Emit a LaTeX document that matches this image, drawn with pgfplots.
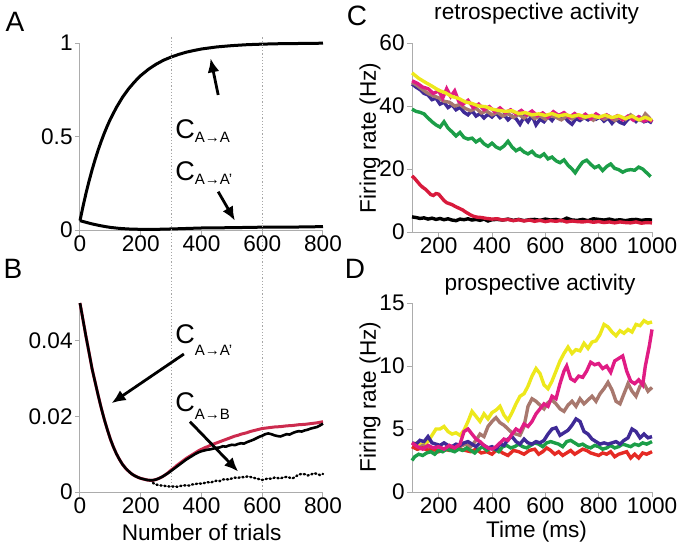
\documentclass[border=0pt]{standalone}
\usepackage{fontspec}
\setmainfont{Liberation Sans}
\usepackage{pgfplots}
\pgfplotsset{compat=1.18}
\usetikzlibrary{arrows.meta}

\definecolor{cyel}{HTML}{EDE81C}
\definecolor{cmag}{HTML}{E01C84}
\definecolor{cbrn}{HTML}{A8786E}
\definecolor{cpur}{HTML}{3F2A96}
\definecolor{cgrn}{HTML}{1C9E48}
\definecolor{cred}{HTML}{D81A3C}
\definecolor{cred2}{HTML}{E52A24}
\definecolor{cbred}{HTML}{CC2B4E}

\newcommand{\tfont}{\fontsize{11.3}{13}\selectfont}
\newcommand{\clab}[2]{{\fontsize{13.5}{14}\selectfont C}\raisebox{#2}{\fontsize{7.5}{8}\selectfont #1}}

\pgfplotsset{
  panel/.style={
    scale only axis,
    axis lines=left,
    axis line style={-, gray!65, line width=0.5pt},
    tick style={gray!65, line width=0.5pt},
    tick align=outside,
    major tick length=2.5pt,
    clip=false,
    tick label style={font=\tfont, inner sep=1pt},
    xticklabel style={yshift=0.8pt},
    scaled y ticks=false,
    /pgf/number format/assume math mode=true,
    /pgf/number format/1000 sep={},
  },
}
\tikzset{ann/.style={line width=1.4pt, -{Latex[length=7pt,width=6pt]}}}

\begin{document}
\begin{tikzpicture}
\useasboundingbox (0,0) rectangle (341.5pt,-273.5pt);

% ---------------- A ----------------
\begin{axis}[panel, at={(40pt,-115pt)}, anchor=south west,
  width=121.5pt, height=93.5pt,
  xmin=0, xmax=800, ymin=0, ymax=1,
  xtick={0,200,400,600,800},
  ytick={0,0.5,1}, yticklabels={0,0.5,1}]
\addplot[black, line width=1.5pt] coordinates {
 (0,0.05) (10,0.127) (20,0.198) (30,0.263) (40,0.323) (50,0.378) (60,0.429)
 (70,0.475) (80,0.518) (90,0.557) (100,0.593) (120,0.656) (140,0.710)
 (160,0.755) (180,0.793) (200,0.826) (225,0.859) (250,0.886) (275,0.908)
 (300,0.925) (325,0.939) (350,0.951) (375,0.960) (400,0.968) (450,0.979)
 (500,0.986) (550,0.991) (600,0.994) (650,0.996) (700,0.997) (750,0.998) (800,0.999)};
\addplot[black, line width=1.5pt] coordinates {
 (0,0.05) (20,0.041) (40,0.0325) (60,0.0255) (80,0.0192) (100,0.014) (130,0.0086)
 (160,0.0055) (200,0.0036) (240,0.0031) (300,0.0056) (400,0.0108) (500,0.0125)
 (600,0.0152) (700,0.0156) (800,0.0181)};
\draw[gray!70, densely dotted, line width=0.6pt] (axis cs:300,1.03) -- (axis cs:300,-1.40);
\draw[gray!70, densely dotted, line width=0.6pt] (axis cs:600,1.03) -- (axis cs:600,-1.40);
\draw[ann] (axis cs:455,0.722) -- (axis cs:430,0.918);
\draw[ann] (axis cs:455,0.205) -- (axis cs:510,0.050);
\node[anchor=base west, inner sep=0pt] at (axis cs:313,0.487) {\clab{A→A}{-2pt}};
\node[anchor=base west, inner sep=0pt] at (axis cs:313,0.267) {\clab{A→A'}{-2pt}};
\end{axis}

% ---------------- B ----------------
\begin{axis}[panel, at={(40pt,-246pt)}, anchor=south west,
  width=121.5pt, height=94.5pt,
  xmin=0, xmax=800, ymin=0, ymax=0.05,
  xtick={0,200,400,600,800},
  ytick={0,0.02,0.04}, yticklabels={0,0.02,0.04}]
\addplot[cbred, line width=1.5pt] coordinates {
 (0,0.0500) (10,0.0455) (20,0.0410) (30,0.0368) (40,0.0325) (50,0.0290) (60,0.0255)
 (70,0.0222) (80,0.0192) (90,0.0165) (100,0.0140) (110,0.0119) (120,0.0101)
 (130,0.0086) (140,0.0073) (150,0.0063) (160,0.0055) (170,0.0048) (180,0.0043)
 (190,0.0039) (200,0.0036) (210,0.0034) (220,0.0032) (230,0.0031) (240,0.0031)
 (250,0.0033) (260,0.0036) (270,0.0040) (280,0.0045) (290,0.0051) (300,0.0058)
 (310,0.0064) (320,0.0071) (330,0.0077) (340,0.0083) (350,0.0089) (360,0.0094)
 (370,0.0099) (380,0.0104) (390,0.0109) (400,0.0113) (410,0.0117) (420,0.0120)
 (430,0.0124) (440,0.0127) (450,0.0130) (460,0.0133) (470,0.0136) (480,0.0139)
 (490,0.0142) (500,0.0145) (510,0.0148) (520,0.0150) (530,0.0153) (540,0.0155)
 (550,0.0157) (560,0.0160) (570,0.0162) (580,0.0164) (590,0.0166) (600,0.0168)
 (620,0.0170) (640,0.0172) (660,0.0173) (680,0.0175) (700,0.0176) (720,0.0178)
 (740,0.0179) (760,0.0181) (780,0.0183) (800,0.0186)};
\addplot[black, line width=1.3pt] coordinates {
 (0,0.0500) (10,0.0455) (20,0.0410) (30,0.0368) (40,0.0325) (50,0.0290) (60,0.0255)
 (70,0.0222) (80,0.0192) (90,0.0165) (100,0.0140) (110,0.0119) (120,0.0101)
 (130,0.0086) (140,0.0073) (150,0.0063) (160,0.0055) (170,0.0048) (180,0.0043)
 (190,0.0039) (200,0.0036) (210,0.0034) (220,0.0032) (230,0.0031) (240,0.0031)
 (250,0.0033) (260,0.0036) (270,0.0040) (280,0.0045) (290,0.0050) (300,0.0056)
 (310,0.0062) (320,0.0068) (330,0.0074) (340,0.0080) (350,0.0086) (360,0.0091)
 (370,0.0096) (380,0.0101) (390,0.0105) (400,0.0108) (410,0.0110) (420,0.0112)
 (430,0.0113) (440,0.0115) (450,0.0117) (460,0.0118) (470,0.0121) (480,0.0120)
 (490,0.0123) (500,0.0125) (510,0.0124) (520,0.0127) (530,0.0129) (540,0.0128)
 (550,0.0132) (560,0.0135) (570,0.0138) (580,0.0142) (590,0.0146) (600,0.0149)
 (610,0.0153) (620,0.0155) (630,0.0153) (640,0.0150) (650,0.0148) (660,0.0147)
 (670,0.0150) (680,0.0153) (690,0.0152) (700,0.0156) (710,0.0159) (720,0.0161)
 (730,0.0160) (740,0.0163) (750,0.0165) (760,0.0168) (770,0.0170) (780,0.0172)
 (790,0.0176) (800,0.0181)};
\addplot[black, line width=1.2pt, line cap=round, dash pattern=on 0.6pt off 1.4pt] coordinates {
 (240,0.0024) (250,0.0020) (260,0.0018) (270,0.0017) (280,0.0016) (290,0.0015)
 (300,0.0014) (310,0.0015) (320,0.0014) (330,0.0016) (340,0.0017) (350,0.0018)
 (360,0.0017) (370,0.0020) (380,0.0021) (390,0.0023) (400,0.0022) (410,0.0024)
 (420,0.0026) (430,0.0025) (440,0.0028) (450,0.0030) (460,0.0029) (470,0.0033)
 (480,0.0034) (490,0.0033) (500,0.0036) (510,0.0038) (520,0.0037) (530,0.0040)
 (540,0.0039) (550,0.0041) (560,0.0040) (570,0.0038) (580,0.0036) (590,0.0034)
 (600,0.0032) (610,0.0034) (620,0.0036) (630,0.0035) (640,0.0038) (650,0.0037)
 (660,0.0036) (670,0.0039) (680,0.0040) (690,0.0038) (700,0.0036) (710,0.0041)
 (720,0.0046) (730,0.0048) (740,0.0047) (750,0.0044) (760,0.0046) (770,0.0050)
 (780,0.0048) (790,0.0045) (800,0.0048)};
\draw[ann] (axis cs:342,0.0365) -- (axis cs:104,0.0235);
\draw[ann] (axis cs:362,0.0186) -- (axis cs:521,0.0054);
\node[anchor=base west, inner sep=0pt] at (axis cs:313,0.0394) {\clab{A→A'}{-6pt}};
\node[anchor=base west, inner sep=0pt] at (axis cs:313,0.0214) {\clab{A→B}{-4pt}};
\end{axis}

% ---------------- C ----------------
\begin{axis}[panel, at={(206pt,-116pt)}, anchor=south west,
  width=120pt, height=94.5pt,
  xmin=100, xmax=1000, ymin=0, ymax=60,
  xtick={200,400,600,800,1000},
  ytick={0,20,40,60}]
\addplot[cpur, line width=1.7pt] coordinates {
 (100,47.0) (115,46.0) (130,45.2) (145,44.0) (160,43.5) (175,42.0) (190,42.5)
 (205,40.6) (220,41.2) (235,39.5) (250,40.4) (265,38.8) (280,39.6) (295,38.0)
 (310,37.2) (325,38.5) (340,36.8) (355,37.6) (370,36.2) (385,37.4) (400,36.5)
 (415,37.8) (430,36.3) (445,37.2) (460,35.6) (475,36.8) (490,36.0) (505,34.2)
 (520,36.5) (535,35.0) (550,37.0) (565,34.0) (580,35.8) (595,35.0) (610,36.6)
 (625,35.4) (640,37.2) (655,35.9) (670,36.8) (685,35.2) (700,34.2) (715,36.0)
 (730,35.4) (745,36.4) (760,35.6) (775,36.8) (790,35.8) (805,36.5) (820,35.2)
 (835,36.2) (850,34.5) (865,35.8) (880,34.8) (895,34.3) (910,35.8) (925,36.4)
 (940,35.1) (955,36.3) (970,35.0) (985,35.4) (1000,34.6)};
\addplot[cbrn, line width=1.7pt] coordinates {
 (100,47.5) (120,46.5) (140,45.2) (160,44.0) (180,43.2) (200,42.6) (220,41.5)
 (240,41.2) (260,40.0) (280,40.5) (300,39.2) (320,38.5) (340,39.3) (360,37.8)
 (380,38.4) (400,37.2) (420,38.0) (440,36.8) (460,37.6) (480,36.4) (500,37.3)
 (520,36.2) (540,37.5) (560,36.0) (580,36.9) (600,35.8) (620,37.0) (640,36.4)
 (660,35.6) (680,36.8) (700,35.9) (720,37.1) (740,36.0) (760,36.6) (780,35.5)
 (800,36.9) (820,35.8) (840,36.7) (860,35.4) (880,36.5) (900,35.7) (920,37.2)
 (940,36.0) (960,35.4) (975,37.5) (990,36.2) (1000,35.0)};
\addplot[cmag, line width=1.7pt] coordinates {
 (100,48.0) (120,47.2) (140,46.0) (160,45.5) (180,44.0) (200,44.8) (215,42.5)
 (230,45.5) (245,43.0) (260,44.8) (275,41.5) (290,40.5) (310,41.8) (330,39.5)
 (350,40.6) (370,38.8) (390,39.8) (410,38.2) (430,39.4) (450,37.9) (470,38.8)
 (490,37.5) (510,38.6) (530,37.2) (550,38.4) (570,36.9) (590,37.8) (610,36.5)
 (630,38.2) (650,37.0) (670,37.9) (690,36.4) (710,37.6) (730,36.2) (750,37.4)
 (770,36.0) (790,37.5) (810,36.3) (830,37.2) (850,36.0) (870,36.9) (890,35.6)
 (910,36.8) (930,35.5) (950,36.6) (970,35.2) (990,35.9) (1000,35.0)};
\addplot[cyel, line width=1.7pt] coordinates {
 (100,50.5) (125,48.8) (150,47.5) (175,46.3) (200,45.0) (225,44.2) (250,43.0)
 (275,42.4) (300,41.3) (325,40.8) (350,40.0) (375,39.8) (400,39.0) (425,38.6)
 (450,38.3) (475,38.5) (500,37.6) (525,37.9) (550,37.2) (575,37.5) (600,37.0)
 (625,37.6) (650,36.8) (675,37.3) (700,36.7) (725,37.2) (750,36.5) (775,37.0)
 (800,36.4) (825,37.1) (850,36.3) (875,36.9) (900,36.0) (925,36.8) (950,35.6)
 (975,36.4) (1000,35.5)};
\addplot[cgrn, line width=1.7pt] coordinates {
 (100,39.0) (115,38.3) (130,38.0) (145,37.5) (160,36.2) (175,35.0) (190,34.0)
 (205,33.3) (220,35.0) (235,33.0) (250,31.8) (265,30.5) (280,31.6) (295,30.0)
 (310,29.5) (325,29.8) (340,28.6) (355,29.4) (370,28.0) (385,27.2) (400,28.2)
 (415,27.0) (430,26.4) (445,27.3) (460,28.8) (475,27.0) (490,25.8) (505,26.5)
 (520,25.4) (535,24.8) (550,25.6) (565,24.3) (580,23.9) (595,24.8) (610,23.2)
 (625,23.8) (640,22.6) (655,22.0) (670,22.9) (685,21.2) (700,20.0) (712,18.8)
 (725,20.5) (740,22.2) (755,22.8) (770,21.5) (785,20.4) (800,21.0) (815,19.5)
 (830,20.8) (845,21.6) (860,20.2) (875,19.8) (890,19.0) (905,19.6) (920,19.8)
 (935,19.6) (950,20.6) (965,20.0) (980,18.8) (995,17.6)};
\addplot[black, line width=1.7pt] coordinates {
 (100,4.8) (115,4.6) (130,4.3) (145,4.5) (160,4.1) (175,4.4) (190,4.0) (205,4.3)
 (220,3.9) (235,4.2) (250,3.8) (265,3.6) (280,4.1) (295,3.9) (310,4.2) (325,3.8)
 (340,4.0) (355,3.7) (370,4.1) (385,3.5) (400,3.9) (420,4.0) (440,3.8) (460,4.1)
 (480,3.7) (500,4.0) (520,3.6) (540,3.9) (560,4.0) (580,3.7) (600,4.1) (620,3.8)
 (640,4.0) (660,3.6) (680,4.4) (700,3.8) (720,3.7) (740,4.0) (760,3.6) (780,4.2)
 (800,4.0) (820,3.8) (840,4.1) (860,3.7) (880,3.9) (900,3.6) (920,3.9) (940,4.0)
 (960,3.7) (980,3.9) (1000,3.8)};
\addplot[cred, line width=1.7pt] coordinates {
 (100,17.8) (110,17.0) (120,16.0) (130,15.0) (140,14.2) (150,13.6) (160,12.8)
 (170,11.9) (180,11.6) (190,12.2) (200,12.0) (210,11.0) (220,10.0) (230,9.3)
 (240,9.0) (250,8.7) (260,8.2) (270,7.8) (280,7.4) (290,7.0) (300,6.4) (310,5.9)
 (320,5.4) (330,5.0) (345,4.7) (360,4.6) (380,4.3) (400,4.1) (420,4.2) (440,3.8)
 (460,4.0) (480,3.6) (500,3.9) (520,3.5) (540,3.8) (560,3.4) (580,3.7) (600,3.3)
 (620,3.6) (640,3.4) (660,3.7) (680,3.2) (700,3.5) (720,3.3) (740,3.2) (760,3.4)
 (780,3.1) (800,3.3) (820,3.0) (840,3.2) (860,2.9) (880,3.2) (900,3.0) (920,2.9)
 (940,3.2) (960,2.8) (980,3.0) (1000,2.9)};
\end{axis}

% ---------------- D ----------------
\begin{axis}[panel, at={(206pt,-246pt)}, anchor=south west,
  width=120pt, height=94.5pt,
  xmin=100, xmax=1000, ymin=0, ymax=15,
  xtick={200,400,600,800,1000},
  ytick={0,5,10,15}]
\addplot[cyel, line width=1.7pt] coordinates {
 (100,3.8) (120,3.9) (140,3.7) (160,4.0) (175,4.5) (190,5.0) (205,5.0) (220,5.2)
 (235,4.8) (250,4.6) (265,4.7) (280,4.5) (295,4.9) (310,5.6) (325,6.4) (340,6.0)
 (355,5.6) (370,6.2) (385,5.8) (400,6.3) (415,6.5) (430,6.8) (445,6.1) (460,5.7)
 (475,6.3) (490,7.0) (505,7.6) (520,7.8) (535,8.4) (550,9.2) (565,9.8) (580,9.4)
 (595,8.5) (610,8.2) (625,8.8) (640,9.6) (655,10.4) (670,11.0) (685,11.5)
 (700,11.0) (715,11.3) (730,11.2) (745,11.8) (760,11.4) (775,11.9) (790,12.0)
 (805,12.5) (820,13.3) (835,13.1) (850,12.7) (865,12.4) (880,12.8) (895,12.6)
 (910,12.9) (925,12.7) (940,13.3) (955,13.2) (970,13.6) (985,13.4) (1000,13.5)};
\addplot[cbrn, line width=1.7pt] coordinates {
 (100,3.6) (120,3.4) (140,3.7) (160,3.5) (180,3.3) (200,3.6) (220,3.4) (240,3.5)
 (260,3.3) (280,3.6) (300,3.8) (320,3.6) (340,4.1) (355,4.6) (370,4.4) (385,5.2)
 (400,5.6) (415,5.9) (430,5.5) (445,5.3) (460,5.0) (475,4.7) (490,4.6) (505,4.5)
 (520,5.2) (535,6.8) (550,7.4) (565,7.2) (580,6.9) (595,6.6) (610,7.1) (625,7.3)
 (640,7.0) (655,6.6) (670,6.4) (685,6.9) (700,7.2) (715,6.8) (730,7.4) (745,7.0)
 (760,7.3) (775,7.6) (790,7.2) (805,7.8) (820,8.2) (835,8.7) (850,8.1) (865,7.2)
 (880,7.0) (895,7.8) (910,8.6) (925,8.0) (940,7.6) (955,8.4) (970,8.6) (985,8.0)
 (1000,8.3)};
\addplot[cred2, line width=1.7pt] coordinates {
 (100,3.6) (120,3.4) (140,3.5) (160,3.3) (180,3.4) (200,3.2) (220,3.4) (240,3.3)
 (260,3.5) (280,3.4) (300,3.3) (320,3.2) (340,3.4) (360,3.1) (380,3.2) (400,3.0)
 (420,3.4) (440,3.1) (460,2.9) (480,3.3) (500,3.2) (520,3.0) (540,3.3) (560,3.4)
 (575,3.0) (590,3.2) (605,3.5) (620,3.3) (635,3.0) (650,3.2) (665,2.9) (680,3.1)
 (695,3.3) (710,3.0) (725,3.2) (740,3.4) (755,3.3) (770,3.1) (785,3.0) (800,2.9)
 (815,3.1) (830,3.0) (845,3.2) (860,2.8) (875,3.0) (890,3.1) (905,3.2) (920,2.7)
 (935,3.0) (950,2.7) (965,3.1) (980,3.0) (1000,3.2)};
\addplot[cgrn, line width=1.7pt] coordinates {
 (100,2.5) (110,2.8) (125,3.0) (140,2.9) (155,3.1) (170,3.2) (185,3.0) (200,3.3)
 (215,3.2) (230,3.4) (245,3.3) (260,3.2) (275,3.4) (290,3.3) (305,3.5) (320,3.3)
 (335,3.1) (350,3.4) (365,3.6) (380,3.3) (395,3.5) (410,3.4) (425,3.2) (440,3.6)
 (455,3.7) (470,3.5) (485,3.6) (500,3.8) (515,3.6) (530,3.5) (545,3.7) (560,3.9)
 (575,3.8) (590,3.6) (605,3.9) (620,4.0) (635,3.9) (650,3.8) (665,3.6) (680,4.0)
 (695,4.1) (710,3.9) (725,3.7) (740,3.8) (755,3.6) (770,3.5) (785,3.7) (800,3.6)
 (815,3.4) (830,3.5) (845,3.7) (860,3.5) (875,3.6) (890,3.8) (905,3.7) (920,3.6)
 (935,3.8) (950,3.7) (965,3.9) (980,3.8) (1000,4.0)};
\addplot[cpur, line width=1.7pt] coordinates {
 (100,3.9) (115,3.8) (130,4.1) (145,4.0) (160,4.4) (175,3.9) (190,3.8) (205,3.7)
 (220,3.9) (235,3.7) (250,3.6) (265,3.8) (280,3.7) (295,3.9) (310,4.0) (325,3.8)
 (340,3.6) (355,3.9) (370,3.7) (385,3.5) (400,3.6) (415,3.4) (430,3.8) (445,3.7)
 (460,4.2) (475,4.4) (490,4.0) (505,3.8) (520,4.2) (535,3.9) (550,3.8) (565,4.0)
 (580,3.9) (595,4.1) (610,4.6) (625,5.0) (640,5.1) (655,4.5) (670,4.7) (685,4.9)
 (700,5.3) (715,5.8) (730,5.6) (745,4.8) (760,4.6) (775,4.2) (790,4.0) (805,3.8)
 (820,3.9) (835,3.8) (850,3.9) (865,4.0) (880,3.8) (895,4.1) (910,4.3) (925,5.0)
 (940,4.8) (955,4.3) (970,4.6) (985,4.3) (1000,4.4)};
\addplot[cmag, line width=1.7pt] coordinates {
 (100,3.9) (120,3.6) (140,3.4) (160,3.7) (180,3.5) (200,3.6) (220,3.4) (240,3.7)
 (260,3.5) (280,3.8) (295,4.8) (310,5.0) (325,4.6) (340,4.2) (355,4.0) (370,3.7)
 (385,3.5) (400,3.4) (415,3.6) (430,3.9) (445,4.2) (460,4.1) (475,4.6) (490,5.0)
 (505,4.8) (520,5.4) (535,5.2) (550,5.6) (565,6.2) (580,6.6) (595,7.0) (610,6.8)
 (625,7.6) (640,7.4) (655,8.6) (670,9.6) (680,10.0) (695,9.0) (710,8.8) (725,9.2)
 (740,9.1) (755,9.6) (770,10.3) (785,10.1) (800,10.2) (815,9.8) (830,10.0)
 (845,9.5) (860,10.4) (875,10.6) (890,10.8) (905,9.6) (920,8.8) (935,8.6)
 (950,8.9) (965,8.5) (975,10.0) (990,11.6) (1000,12.9)};
\end{axis}

% ---------------- texts ----------------
\node[font=\fontsize{14}{15}\selectfont] at (7.5pt,-11pt) {A};
\node[font=\fontsize{14}{15}\selectfont] at (6.5pt,-134.5pt) {B};
\node[font=\fontsize{14}{15}\selectfont] at (178.5pt,-8pt) {C};
\node[font=\fontsize{14}{15}\selectfont] at (177.5pt,-134.5pt) {D};
\node[font=\tfont] at (268.3pt,-6.7pt) {retrospective activity};
\node[font=\tfont] at (270pt,-142.5pt) {prospective activity};
\node[font=\tfont, rotate=90] at (185pt,-69pt) {Firing rate (Hz)};
\node[font=\tfont, rotate=90] at (185pt,-198.5pt) {Firing rate (Hz)};
\node[font=\tfont] at (100.8pt,-266pt) {Number of trials};
\node[font=\tfont] at (268.3pt,-266pt) {Time (ms)};
\end{tikzpicture}
\end{document}
